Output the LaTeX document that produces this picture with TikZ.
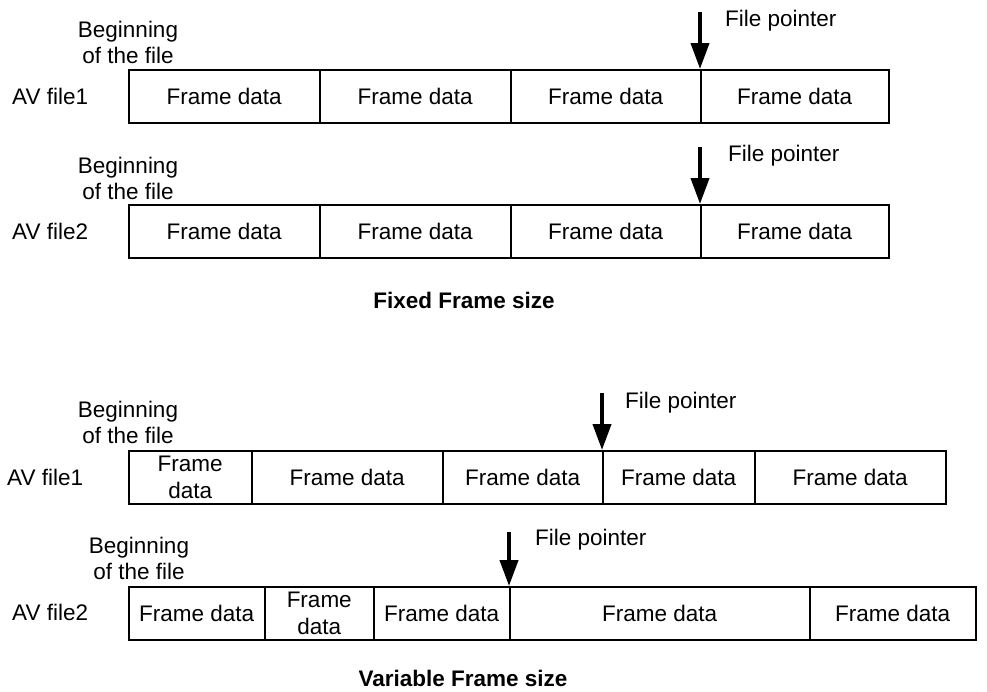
\documentclass[tikz,border=0pt]{standalone}
\usepackage{fontspec}
\setmainfont{Liberation Sans}
\usetikzlibrary{arrows.meta}
\begin{document}
\begin{tikzpicture}[x=1pt,y=-1pt,
  txt/.style={font=\fontsize{22.5}{26}\selectfont, inner sep=0pt, align=center},
  cell/.style={draw, line width=1.5pt, anchor=north west, inner sep=0pt, minimum height=53pt,
     font=\fontsize{22.5}{27}\selectfont, align=center},
  ptr/.style={line width=4pt, -{Triangle[length=26pt,width=18pt]}},
  ttl/.style={font=\bfseries\fontsize{22.5}{26}\selectfont, inner sep=0pt}]
\useasboundingbox (0,0) rectangle (987,691);
% ---------- Fixed, file 1
\node[txt, anchor=west] (f1lab) at (12,96) {AV file1};
\node[txt] (f1beg) at (128,42) {Beginning\\of the file};
\node[cell, minimum width=191pt] (f1a) at (128,69) {Frame data};
\node[cell, minimum width=191pt] (f1b) at (319,69) {Frame data};
\node[cell, minimum width=190pt] (f1c) at (510,69) {Frame data};
\node[cell, minimum width=188pt] (f1d) at (700,69) {Frame data};
\coordinate (f1p) at (700,12);
\draw[ptr] (f1p) -- (f1d.north west);
\node[txt, anchor=west] (f1fp) at (725,21) {File pointer};
% ---------- Fixed, file 2
\node[txt, anchor=west] (f2lab) at (12,231) {AV file2};
\node[txt] (f2beg) at (128,178) {Beginning\\of the file};
\node[cell, minimum width=191pt] (f2a) at (128,204) {Frame data};
\node[cell, minimum width=191pt] (f2b) at (319,204) {Frame data};
\node[cell, minimum width=190pt] (f2c) at (510,204) {Frame data};
\node[cell, minimum width=188pt] (f2d) at (700,204) {Frame data};
\coordinate (f2p) at (700,147);
\draw[ptr] (f2p) -- (f2d.north west);
\node[txt, anchor=west] (f2fp) at (728,156) {File pointer};
\node[ttl] (fixttl) at (464,300) {Fixed Frame size};
% ---------- Variable, file 1
\node[txt, anchor=west] (v1lab) at (7,477) {AV file1};
\node[txt] (v1beg) at (128,422) {Beginning\\of the file};
\node[cell, minimum width=123pt] (v1a) at (128,450) {Frame\\data};
\node[cell, minimum width=191pt] (v1b) at (251,450) {Frame data};
\node[cell, minimum width=160pt] (v1c) at (442,450) {Frame data};
\node[cell, minimum width=152pt] (v1d) at (602,450) {Frame data};
\node[cell, minimum width=191pt] (v1e) at (754,450) {Frame data};
\coordinate (v1p) at (602,393);
\draw[ptr] (v1p) -- (v1d.north west);
\node[txt, anchor=west] (v1fp) at (625,403) {File pointer};
% ---------- Variable, file 2
\node[txt, anchor=west] (v2lab) at (12,612) {AV file2};
\node[txt] (v2beg) at (139,558) {Beginning\\of the file};
\node[cell, minimum width=136pt] (v2a) at (128,586) {Frame data};
\node[cell, minimum width=109pt] (v2b) at (264,586) {Frame\\data};
\node[cell, minimum width=136pt] (v2c) at (373,586) {Frame data};
\node[cell, minimum width=300pt] (v2d) at (509,586) {Frame data};
\node[cell, minimum width=166pt] (v2e) at (809,586) {Frame data};
\coordinate (v2p) at (509,532);
\draw[ptr] (v2p) -- (v2d.north west);
\node[txt, anchor=west] (v2fp) at (535,540) {File pointer};
\node[ttl] (varttl) at (463,678) {Variable Frame size};
\end{tikzpicture}
\end{document}
